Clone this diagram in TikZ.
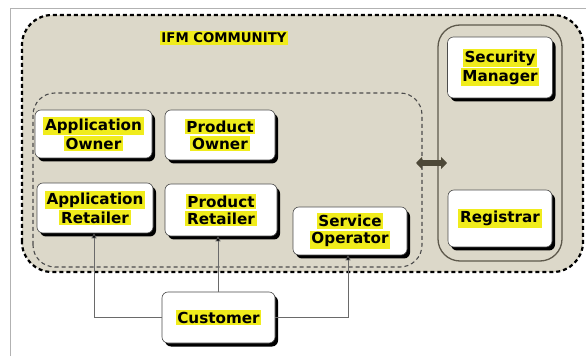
\documentclass[tikz,border=0pt]{standalone}
\usepackage{fontspec}
\setsansfont{DejaVu Sans}
\usetikzlibrary{arrows.meta,shadows}
\definecolor{commfill}{HTML}{DCD8C9}
\definecolor{hlyellow}{HTML}{F0EC1C}
\definecolor{rimgray}{HTML}{5E594C}
\definecolor{linkgray}{HTML}{6A6A6A}
\definecolor{swapolive}{HTML}{4D4838}
\newcommand{\hl}[1]{{\setlength{\fboxsep}{1.8pt}\colorbox{hlyellow}{#1}}}
\begin{document}
\begin{tikzpicture}[x=1pt,y=1pt,
    role/.style={draw=black!70, line width=0.6pt, fill=white, rounded corners=6pt,
      drop shadow={shadow xshift=3pt, shadow yshift=-3.5pt, fill=black, opacity=1},
      align=center, inner sep=0pt,
      font=\fontsize{15.2}{17}\selectfont\sffamily\bfseries},
    link/.style={draw=linkgray, line width=0.6pt, -{Triangle[length=5pt,width=5pt,fill=black]}}]
        \useasboundingbox (0,0) rectangle (586,356);
        % frame and groups
        \draw[black!30] (10,0) -- (10,348) -- (586,348);
        \draw[fill=commfill, line width=2.2pt, dash pattern=on 4pt off 3pt, rounded corners=30pt] (22,84) rectangle (583,341);
        \draw[black!70, line width=1.1pt, dash pattern=on 4pt off 3pt, rounded corners=22pt] (33,89) rectangle (422,263);
        \draw[rimgray, line width=1.3pt, rounded corners=22pt] (438,95) rectangle (562,331);
        \node[font=\fontsize{13.3}{15}\selectfont\sffamily\bfseries] (comm) at (224,318) {\hl{IFM COMMUNITY}};
        % roles
        \node[role, minimum width=117pt, minimum height=48pt] (appown) at (93.5,222) {\hl{Application}\\\hl{Owner}};
        \node[role, minimum width=110pt, minimum height=50pt] (prodown) at (220,221) {\hl{Product}\\\hl{Owner}};
        \node[role, minimum width=116pt, minimum height=50pt] (appret) at (95,148) {\hl{Application}\\\hl{Retailer}};
        \node[role, minimum width=112pt, minimum height=52pt] (prodret) at (221,146) {\hl{Product}\\\hl{Retailer}};
        \node[role, minimum width=114pt, minimum height=48pt] (servop) at (350,125) {\hl{Service}\\\hl{Operator}};
        \node[role, minimum width=105pt, minimum height=61pt] (secmgr) at (500,288.5) {\hl{Security}\\\hl{Manager}};
        \node[role, minimum width=104pt, minimum height=57pt] (registrar) at (500,137.5) {\hl{Registrar}};
        \node[role, minimum width=113pt, minimum height=51pt] (cust) at (218.5,38.5) {\hl{Customer}};
        % links
        \draw[link] (cust.west) -| ([xshift=-1pt]appret.south);
        \draw[link] ([xshift=-0.5pt]cust.north) -- ([xshift=-0.5pt]cust.north |- prodret.south);
        \draw[link] (cust.east) -| ([xshift=-2pt]servop.south);
        \coordinate (swapl) at (416,193);
        \coordinate (swapr) at (447,193);
        \draw[swapolive, line width=5.5pt, {Triangle[length=6pt,width=12pt]}-{Triangle[length=6pt,width=12pt]}] (swapl) -- (swapr);
    \end{tikzpicture}
\end{document}
